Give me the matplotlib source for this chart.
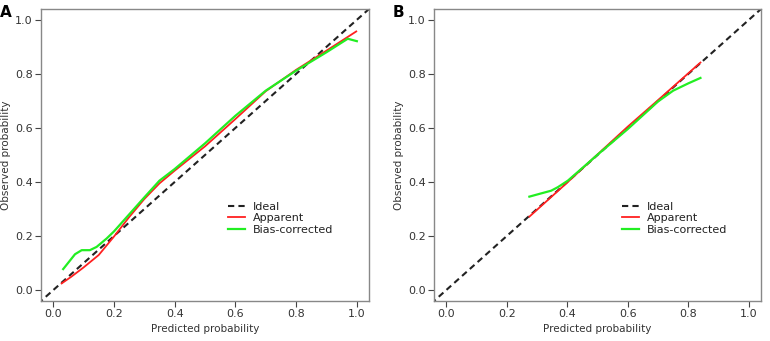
#!/usr/bin/env python3
# calibration curves, panels A and B
import matplotlib
matplotlib.use('Agg')
import matplotlib.pyplot as plt

# panel A
a_app_x = [0.028, 0.06, 0.10, 0.15, 0.20, 0.25, 0.30, 0.35, 0.40, 0.50, 0.60, 0.70, 0.80, 0.90, 0.998]
a_app_y = [0.025, 0.05, 0.084, 0.13, 0.198, 0.27, 0.337, 0.395, 0.442, 0.532, 0.633, 0.736, 0.815, 0.886, 0.957]
a_bc_x = [0.033, 0.072, 0.094, 0.121, 0.143, 0.176, 0.20, 0.25, 0.30, 0.35, 0.40, 0.50, 0.60, 0.70, 0.80, 0.90, 0.97, 1.0]
a_bc_y = [0.078, 0.133, 0.148, 0.148, 0.16, 0.191, 0.217, 0.28, 0.343, 0.405, 0.448, 0.543, 0.645, 0.738, 0.812, 0.88, 0.93, 0.921]

# panel B
b_app_x = [0.275, 0.40, 0.50, 0.60, 0.70, 0.84]
b_app_y = [0.272, 0.398, 0.502, 0.605, 0.703, 0.842]
b_bc_x = [0.275, 0.314, 0.347, 0.369, 0.402, 0.446, 0.50, 0.60, 0.70, 0.75, 0.80, 0.84]
b_bc_y = [0.346, 0.358, 0.368, 0.381, 0.405, 0.448, 0.501, 0.596, 0.698, 0.738, 0.765, 0.785]

ticks = [0.0, 0.2, 0.4, 0.6, 0.8, 1.0]
tick_labels = ['0.0', '0.2', '0.4', '0.6', '0.8', '1.0']

plt.rcParams['font.family'] = ['DejaVu Sans']
fs = 7.5

fig = plt.figure(figsize=(7.7, 3.41), dpi=100)
axA = fig.add_axes([41/770, 40/341, 328/770, 292/341])
axB = fig.add_axes([434/770, 40/341, 327/770, 292/341])

panels = [(axA, 'A', a_app_x, a_app_y, a_bc_x, a_bc_y, 0.0),
          (axB, 'B', b_app_x, b_app_y, b_bc_x, b_bc_y, 0.005)]

for ax, lab, ax_x, ax_y, bx, by, dx in panels:
    ax.plot([-0.05, 1.05], [-0.05, 1.05], color='#222222', ls=(0, (3, 2)), lw=1.5, label='Ideal')
    ax.plot(ax_x, ax_y, color='#ff2020', lw=1.3, label='Apparent')
    ax.plot(bx, by, color='#22ee22', lw=1.6, label='Bias-corrected')
    ax.set_xlim(-0.04, 1.04)
    ax.set_ylim(-0.04, 1.04)
    ax.set_xticks(ticks)
    ax.set_xticklabels(tick_labels)
    ax.set_yticks(ticks)
    ax.set_yticklabels(tick_labels)
    ax.tick_params(direction='out', length=4, width=0.8, color='#444444',
                   labelsize=fs + 0.5, labelcolor='#333333', pad=2)
    for s in ax.spines.values():
        s.set_color('#888888')
        s.set_linewidth(1.0)
    ax.set_xlabel('Predicted probability', fontsize=fs, color='#333333', labelpad=3)
    ax.set_ylabel('Observed probability', fontsize=fs, color='#333333', labelpad=3)
    ax.legend(loc='upper left', bbox_to_anchor=(0.57 + dx, 0.34), frameon=False,
              fontsize=fs + 0.5, handlelength=1.5, handletextpad=0.75,
              labelspacing=0.15, borderpad=0, borderaxespad=0, labelcolor='#222222')
    x0 = ax.get_position().x0
    fig.text(x0 - 41/770, 0.985, lab, fontsize=11, fontweight='bold', va='top', ha='left')

fig.savefig('out.png', dpi=100)
